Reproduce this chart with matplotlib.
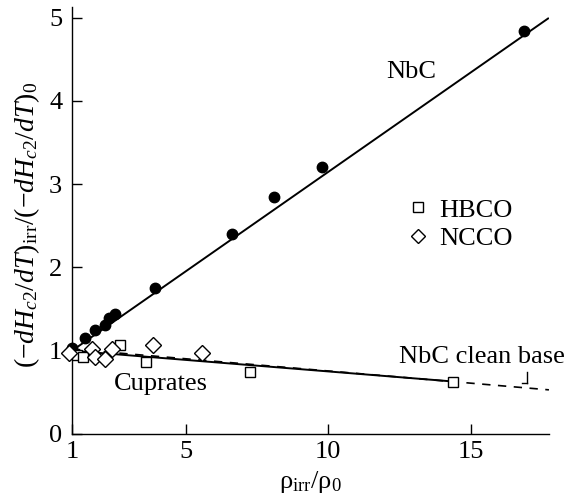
import matplotlib
matplotlib.use("Agg")
import matplotlib.pyplot as plt
from matplotlib.lines import Line2D

plt.rcParams['font.family'] = ['Liberation Serif', 'DejaVu Serif']
plt.rcParams['mathtext.fontset'] = 'custom'
plt.rcParams['mathtext.rm'] = 'Liberation Serif'
plt.rcParams['mathtext.it'] = 'Liberation Serif:italic'
plt.rcParams['mathtext.bf'] = 'Liberation Serif:bold'

# ---- data ----
nbc_x = [1.0, 1.45, 1.80, 2.17, 2.30, 2.50, 3.90, 6.61, 8.08, 9.77, 16.87]
nbc_y = [1.03, 1.15, 1.25, 1.31, 1.39, 1.44, 1.75, 2.40, 2.85, 3.21, 4.84]

hbco_x = [1.16, 1.39, 2.68, 3.61, 7.26, 14.39]
hbco_y = [0.95, 0.93, 1.07, 0.86, 0.74, 0.63]

ncco_x = [0.89, 1.69, 1.80, 2.15, 2.39, 3.86, 5.58]
ncco_y = [0.97, 1.02, 0.93, 0.90, 1.02, 1.07, 0.97]

nbc_fit_x = [1.0, 17.72]
nbc_fit_y = [1.0, 4.99]
cup_fit_x = [1.0, 14.39]
cup_fit_y = [1.0, 0.63]
clean_x = [1.0, 17.75]
clean_y = [1.02, 0.53]

xticks = [1, 5, 10, 15]
yticks = [0, 1, 2, 3, 4, 5]

FS = 19

fig = plt.figure(figsize=(5.76, 4.99), dpi=100)
ax = fig.add_axes([0.125, 0.1303, 0.828, 0.856])

ax.plot(nbc_fit_x, nbc_fit_y, color='black', lw=1.4)
ax.plot(cup_fit_x, cup_fit_y, color='black', lw=1.4)
ax.plot(clean_x, clean_y, color='black', lw=1.2, linestyle=(0, (5.0, 4.5)))

ax.plot(nbc_x, nbc_y, 'o', color='black', ms=7.5, clip_on=False, zorder=3)
ax.plot(hbco_x, hbco_y, 's', mfc='white', mec='black', mew=1.0, ms=7,
        clip_on=False, zorder=4)
ax.plot(ncco_x, ncco_y, 'D', mfc='white', mec='black', mew=1.0, ms=8.5,
        clip_on=False, zorder=4)

# leader for "NbC clean base"
ax.plot([16.97, 16.97], [0.745, 0.613], color='black', lw=1.0)
ax.plot([16.80, 16.97], [0.613, 0.613], color='black', lw=1.0)

ax.text(12.93, 4.28, 'NbC', fontsize=FS, ha='center', va='baseline')
ax.text(4.13, 0.53, 'Cuprates', fontsize=FS, ha='center', va='baseline')
ax.text(15.41, 0.853, 'NbC clean base', fontsize=FS, ha='center', va='baseline')

handles = [
    Line2D([], [], marker='s', ls='none', mfc='white', mec='black', mew=1.0, ms=6.5),
    Line2D([], [], marker='D', ls='none', mfc='white', mec='black', mew=1.0, ms=7.5),
]
ax.legend(handles, ['HBCO', 'NCCO'], loc='upper left',
          bbox_to_anchor=(0.70, 0.552), frameon=False, fontsize=FS,
          handlelength=0.9, handletextpad=0.35, labelspacing=0.2,
          borderpad=0.0, borderaxespad=0.0)

ax.set_xlim(1, 17.75)
ax.set_ylim(0, 5.13)
ax.set_xticks(xticks)
ax.set_yticks(yticks)
ax.tick_params(direction='in', length=7, width=1.0, labelsize=FS)
ax.tick_params(axis='x', pad=5)
ax.tick_params(axis='y', pad=7)

for s in ['top', 'right']:
    ax.spines[s].set_visible(False)
for s in ['left', 'bottom']:
    ax.spines[s].set_linewidth(1.0)

ax.set_xlabel(r'ρ$_{\rm irr}$/ρ$_0$', fontsize=FS)
ax.set_ylabel(r'$(-dH_{c2}/dT)_{\rm irr}/(-dH_{c2}/dT)_0$', fontsize=20)
ax.yaxis.set_label_coords(-0.063, 0.49)
ax.xaxis.set_label_coords(0.5, -0.082)

fig.savefig('out.png', dpi=100)
